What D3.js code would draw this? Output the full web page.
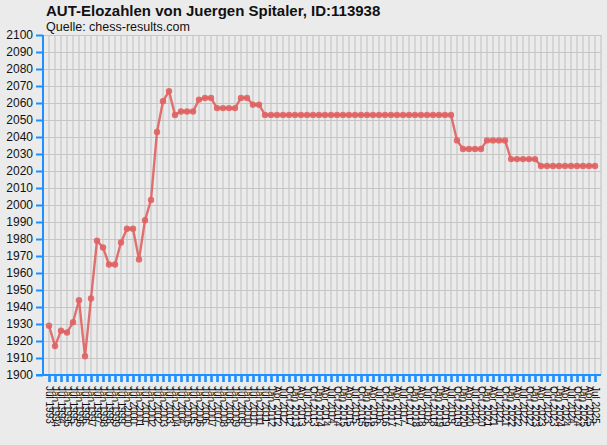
<!DOCTYPE html>
<html>
<head>
<meta charset="utf-8">
<script src="https://cdn.jsdelivr.net/npm/d3@7"></script>
<style>
html,body{margin:0;padding:0;background:#ebebeb;}
svg{display:block;font-family:"Liberation Sans",Arial,sans-serif;}
</style>
</head>
<body>
<script>
const title = "AUT-Elozahlen von Juergen Spitaler, ID:113938";
const subtitle = "Quelle: chess-results.com";

const dates = [
"Jul 1993","Jan 1994","Jul 1994","Jan 1995","Jul 1995","Jan 1996","Jul 1996","Jan 1997","Jul 1997","Jan 1998",
"Jul 1998","Jan 1999","Jul 1999","Jan 2000","Jul 2000","Jan 2001","Jul 2001","Jan 2002","Jul 2002","Jan 2003",
"Jul 2003","Jan 2004","Jul 2004","Jan 2005","Jul 2005","Jan 2006","Jul 2006","Jan 2007","Jul 2007","Jan 2008",
"Jul 2008","Jan 2009","Jul 2009","Jan 2010","Jul 2010","Jan 2011","Jul 2011","Jan 2012",
"Apr 2012","Jul 2012","Oct 2012",
"Jan 2013","Apr 2013","Jul 2013","Oct 2013","Jan 2014","Apr 2014","Jul 2014","Oct 2014",
"Jan 2015","Apr 2015","Jul 2015","Oct 2015","Jan 2016","Apr 2016","Jul 2016","Oct 2016",
"Jan 2017","Apr 2017","Jul 2017","Oct 2017","Jan 2018","Apr 2018","Jul 2018","Oct 2018",
"Jan 2019","Apr 2019","Jul 2019","Oct 2019","Jan 2020","Apr 2020","Jul 2020","Oct 2020",
"Jan 2021","Apr 2021","Jul 2021","Oct 2021","Jan 2022","Apr 2022","Jul 2022","Oct 2022",
"Jan 2023","Apr 2023","Jul 2023","Oct 2023","Jan 2024","Apr 2024","Jul 2024","Oct 2024",
"Jan 2025","Apr 2025","Jul 2025"
];

const elo = [
1929,1917,1926,1925,1931,1944,1911,1945,1979,1975,
1965,1965,1978,1986,1986,1968,1991,2003,2043,2061,
2067,2053,2055,2055,2055,2062,2063,2063,2057,2057,
2057,2057,2063,2063,2059,2059,2053,2053,2053,2053,
2053,2053,2053,2053,2053,2053,2053,2053,2053,2053,
2053,2053,2053,2053,2053,2053,2053,2053,2053,2053,
2053,2053,2053,2053,2053,2053,2053,2053,2038,2033,
2033,2033,2033,2038,2038,2038,2038,2027,2027,2027,
2027,2027,2023,2023,2023,2023,2023,2023,2023,2023,
2023,2023
];

const yTicks = d3.range(1900, 2101, 10);

const W = 607, H = 445;
const pLeft = 43, pRight = 601, pTop = 35, pBottom = 375;
const blue = "rgb(30,144,255)";
const grid = "#c6c6c6";
const red = "rgb(224,98,98)";

const svg = d3.select("body").append("svg").attr("width", W).attr("height", H);
svg.append("rect").attr("width", W).attr("height", H).attr("fill", "#ebebeb");

const x = d3.scalePoint().domain(dates).range([pLeft, pRight]).padding(1);
const y = d3.scaleLinear().domain([1900, 2100]).range([pBottom, pTop]);

// grid
const g = svg.append("g");
g.selectAll("line.h").data(yTicks).enter().append("line")
  .attr("x1", pLeft).attr("x2", pRight)
  .attr("y1", d => Math.round(y(d)) + 0.5).attr("y2", d => Math.round(y(d)) + 0.5)
  .attr("stroke", grid).attr("stroke-width", 1.2);
g.selectAll("line.v").data(dates).enter().append("line")
  .attr("x1", d => x(d)).attr("x2", d => x(d))
  .attr("y1", pTop).attr("y2", pBottom)
  .attr("stroke", grid).attr("stroke-width", 1.2);
g.append("line").attr("x1", pRight).attr("x2", pRight).attr("y1", pTop).attr("y2", pBottom)
  .attr("stroke", grid).attr("stroke-width", 1.2);

// y axis
const yAxis = d3.axisLeft(y).tickValues(yTicks).tickSize(7).tickPadding(3).tickFormat(d3.format("d"));
const ya = svg.append("g").attr("transform", `translate(${pLeft},0)`).call(yAxis);
ya.select(".domain").attr("stroke", blue).attr("stroke-width", 2).attr("d", `M0,${pTop}V${pBottom}`);
ya.selectAll(".tick line").attr("stroke", blue).attr("stroke-width", 2);
ya.selectAll(".tick text").attr("font-size", 12).attr("fill", "#111")
  .attr("font-family", "'Liberation Sans',Arial,sans-serif");

// x axis
const xAxis = d3.axisBottom(x).tickSize(7).tickPadding(0);
const xa = svg.append("g").attr("transform", `translate(0,${pBottom})`).call(xAxis);
xa.select(".domain").attr("stroke", blue).attr("stroke-width", 2).attr("d", `M${pLeft - 7},0H${pRight}`);
xa.selectAll(".tick line").attr("stroke", blue).attr("stroke-width", 2.6);
xa.selectAll(".tick text")
  .attr("font-size", 10).attr("fill", "#111")
  .attr("font-family", "'Liberation Sans',Arial,sans-serif")
  .attr("text-anchor", "start")
  .attr("transform", "translate(0,11) rotate(90)")
  .attr("x", 0).attr("y", 0).attr("dy", "0.35em");

// line
const pts = dates.map((d, i) => [d, elo[i]]);
svg.append("path").datum(pts)
  .attr("fill", "none").attr("stroke", red).attr("stroke-width", 2.4).attr("stroke-opacity", 0.9)
  .attr("d", d3.line().x(d => x(d[0])).y(d => y(d[1])));
svg.append("g").selectAll("circle").data(pts).enter().append("circle")
  .attr("cx", d => x(d[0])).attr("cy", d => y(d[1])).attr("r", 3.2)
  .attr("fill", red).attr("fill-opacity", 0.9);

// titles
svg.append("text").attr("x", 46).attr("y", 16).attr("font-size", 15).attr("font-weight", "bold")
  .attr("fill", "#111").text(title);
svg.append("text").attr("x", 46).attr("y", 31).attr("font-size", 12.5)
  .attr("fill", "#111").text(subtitle);
</script>
</body>
</html>
